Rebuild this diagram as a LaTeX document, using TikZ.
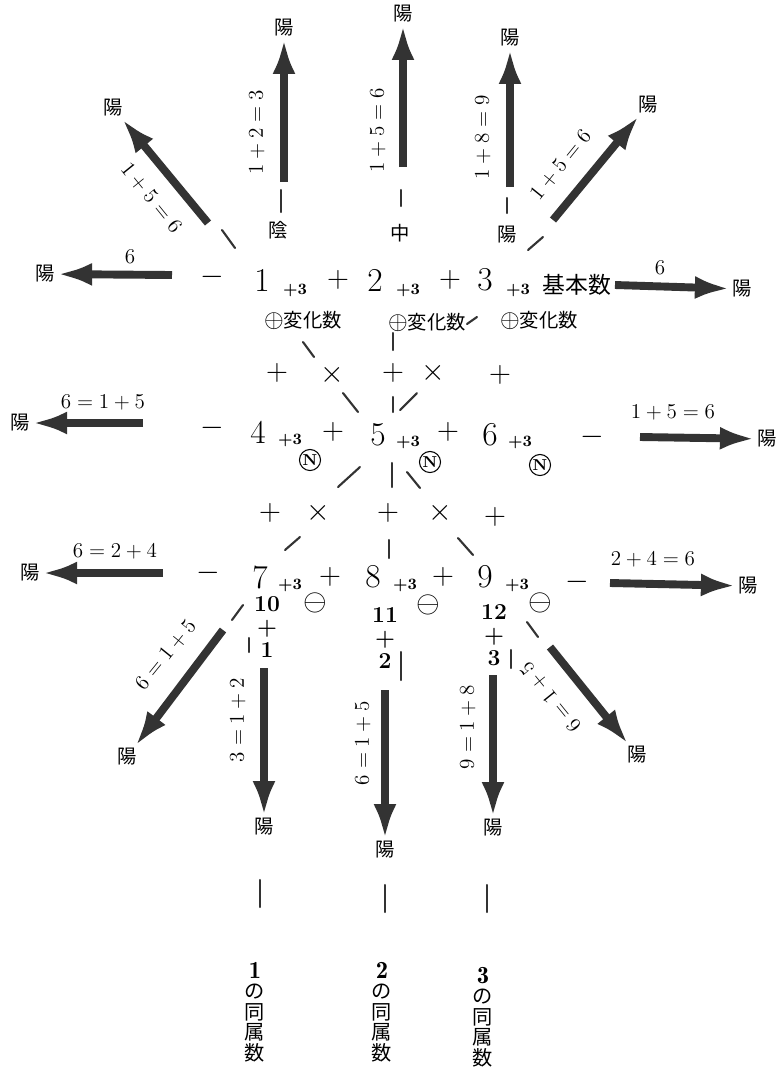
\documentclass[tikz,border=0pt]{standalone}
\usepackage{fontspec}
\newfontfamily\jpfont{Noto Sans CJK JP}
\usetikzlibrary{arrows.meta}
\tikzset{
  num/.style={font=\fontsize{19}{21}\selectfont},
  op/.style={font=\LARGE},
  subn/.style={font=\small\bfseries, inner sep=0pt},
  jp/.style={font=\jpfont\fontsize{11}{12}\selectfont},
  yang/.style={font=\jpfont\fontsize{11}{12}\selectfont, inner sep=1.2pt},
  eq/.style={font=\fontsize{13}{15}\selectfont, inner sep=1pt},
  bigarrow/.style={line width=4.5pt, draw=black!80, -{Latex[length=7mm,width=4.6mm]}},
  bar/.style={line width=1.2pt, draw=black!80, line cap=round},
  circmark/.style={circle, draw, line width=0.6pt, inner sep=0.6pt, font=\fontsize{9}{9}\selectfont\bfseries},
  minusmark/.style={font=\LARGE, inner sep=1pt},
  stack/.style={font=\bfseries\fontsize{13}{13}\selectfont, align=center, inner sep=1pt},
  vert/.style={font=\jpfont\fontsize{11.5}{11.7}\selectfont, align=center},
}
\begin{document}
\begin{tikzpicture}[x=0.02cm, y=-0.02cm]
\useasboundingbox (0,0) rectangle (778,1073);

% first row
\node[op] (m1) at (212,277) {$-$};
\node[num] (n1) at (262,280) {1};
\node[subn] (s1) at (295,290) {+3};
\node[op] (p12) at (338,280) {$+$};
\node[num] (n2) at (375,280) {2};
\node[subn] (s2) at (408,290) {+3};
\node[op] (p23) at (450,280) {$+$};
\node[num] (n3) at (485,280) {3};
\node[subn] (s3) at (518,290) {+3};
\node[jp, font=\jpfont\fontsize{13}{15}\selectfont] (base) at (577,285) {基本数};
\node[jp] (c1) at (303,320) {{\Large$\oplus$}変化数};
\node[jp] (c2) at (427,322) {{\Large$\oplus$}変化数};
\node[jp] (c3) at (539,320) {{\Large$\oplus$}変化数};

% operators between rows
\node[op] (o21) at (277,373) {$+$};
\node[op] (o22) at (332,375) {$\times$};
\node[op] (o23) at (393,373) {$+$};
\node[op] (o24) at (433,373) {$\times$};
\node[op] (o25) at (500,375) {$+$};

% second row
\node[op] (m4) at (212,428) {$-$};
\node[num] (n4) at (258,432) {4};
\node[subn] (s4) at (290,440) {+3};
\node[op] (p45) at (333,432) {$+$};
\node[num] (n5) at (378,435) {5};
\node[subn] (s5) at (408,442) {+3};
\node[op] (p56) at (448,432) {$+$};
\node[num] (n6) at (490,435) {6};
\node[subn] (s6) at (520,442) {+3};
\node[op] (m6) at (592,437) {$-$};
\node[circmark] (z4) at (310,460) {N};
\node[circmark] (z5) at (430,462) {N};
\node[circmark] (z6) at (540,465) {N};

\node[op] (o31) at (270,513) {$+$};
\node[op] (o32) at (318,513) {$\times$};
\node[op] (o33) at (388,513) {$+$};
\node[op] (o34) at (440,513) {$\times$};
\node[op] (o35) at (495,517) {$+$};

% third row
\node[op] (m7) at (208,573) {$-$};
\node[num] (n7) at (260,577) {7};
\node[subn] (s7) at (290,585) {+3};
\node[op] (p78) at (330,577) {$+$};
\node[num] (n8) at (373,577) {8};
\node[subn] (s8) at (405,585) {+3};
\node[op] (p89) at (443,577) {$+$};
\node[num] (n9) at (485,577) {9};
\node[subn] (s9) at (517,585) {+3};
\node[op] (m9) at (577,582) {$-$};
\node[minusmark] (u7) at (315,603) {$\ominus$};
\node[minusmark] (u8) at (428,605) {$\ominus$};
\node[minusmark] (u9) at (540,603) {$\ominus$};

\node[stack] (k10) at (267,627) {10\\+\\1};
\node[stack] (k11) at (385,638) {11\\+\\2};
\node[stack] (k12) at (494,635) {12\\+\\3};

% short strokes
\foreach \xa/\ya/\xb/\yb in {222/230/235/248, 281/190/281/212, 401/190/401/206,
    507/198/507/213, 528/250/543/237, 467/324/477/317, 393/333/393/350,
    303/342/314/357, 343/393/358/412, 393/397/393/412, 400/410/417/393,
    338/487/360/467, 392/463/392/487, 407/472/420/488, 285/550/300/537,
    389/540/389/558, 458/538/473/555, 232/620/243/605, 527/622/538/637,
    249/638/249/652, 401/652/401/680, 511/650/511/668,
    260/880/260/907, 385/885/385/912, 487/885/487/912}
  \draw[bar] (\xa,\ya) -- (\xb,\yb);

\node[jp] (yin) at (278,230) {陰};
\node[jp] (mid) at (400,233) {中};
\node[jp] (yo) at (507,235) {陽};

% arrows to yang
\node[yang] (yTL) at (113,108) {陽};
\node[yang] (yT1) at (284,28) {陽};
\node[yang] (yT2) at (403,14) {陽};
\node[yang] (yT3) at (510,38) {陽};
\node[yang] (yTR) at (648,105) {陽};
\node[yang] (yL1) at (45,274) {陽};
\node[yang] (yR1) at (742,289) {陽};
\node[yang] (yL2) at (20,423) {陽};
\node[yang] (yR2) at (767,439) {陽};
\node[yang] (yL3) at (30,573) {陽};
\node[yang] (yR3) at (748,586) {陽};
\node[yang] (yBL) at (127,757) {陽};
\node[yang] (yB1) at (264,827) {陽};
\node[yang] (yB2) at (385,850) {陽};
\node[yang] (yB3) at (493,828) {陽};
\node[yang] (yBR) at (637,755) {陽};

\coordinate (tTL) at (208,223);
\coordinate (tT1) at (284,182);
\coordinate (tT2) at (403,167);
\coordinate (tT3) at (510,187);
\coordinate (tTR) at (553,220);
\coordinate (tL1) at (172,275);
\coordinate (tR1) at (615,285);
\coordinate (tL2) at (143,423);
\coordinate (tR2) at (640,437);
\coordinate (tL3) at (163,573);
\coordinate (tR3) at (610,583);
\coordinate (tBL) at (223,630);
\coordinate (tB1) at (264,668);
\coordinate (tB2) at (385,690);
\coordinate (tB3) at (493,675);
\coordinate (tBR) at (550,647);

\foreach \a in {TL,T1,T2,T3,TR,L1,R1,L2,R2,L3,R3,BL,B1,B2,B3,BR}
  \draw[bigarrow] (t\a) -- (y\a);

\node[eq, rotate=-51] (eTL) at (151,198) {$1+5=6$};
\node[eq, rotate=90] (eT1) at (257,132) {$1+2=3$};
\node[eq, rotate=90] (eT2) at (378,130) {$1+5=6$};
\node[eq, rotate=90] (eT3) at (483,137) {$1+8=9$};
\node[eq, rotate=51] (eTR) at (561,165) {$1+5=6$};
\node[eq] (eL1) at (130,257) {$6$};
\node[eq] (eR1) at (660,268) {$6$};
\node[eq] (eL2) at (103,403) {$6=1+5$};
\node[eq] (eR2) at (673,413) {$1+5=6$};
\node[eq] (eL3) at (115,552) {$6=2+4$};
\node[eq] (eR3) at (653,560) {$2+4=6$};
\node[eq, rotate=51] (eBL) at (166,655) {$6=1+5$};
\node[eq, rotate=90] (eB1) at (238,720) {$3=1+2$};
\node[eq, rotate=90] (eB2) at (363,743) {$6=1+5$};
\node[eq, rotate=90] (eB3) at (468,727) {$9=1+8$};
\node[eq, rotate=129] (eBR) at (551,697) {$6=1+5$};

% kin numbers
\node[vert] (g1) at (255,1012) {{\fontsize{14}{14}\selectfont$\mathbf{1}$}\\の\\同\\属\\数};
\node[vert] (g2) at (382,1012) {{\fontsize{14}{14}\selectfont$\mathbf{2}$}\\の\\同\\属\\数};
\node[vert] (g3) at (483,1017) {{\fontsize{14}{14}\selectfont$\mathbf{3}$}\\の\\同\\属\\数};
\end{tikzpicture}
\end{document}
